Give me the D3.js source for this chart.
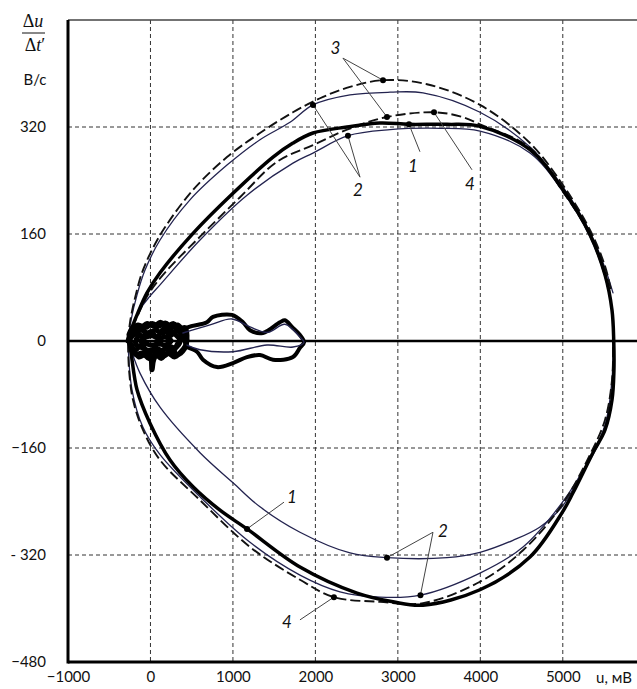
<!DOCTYPE html>
<html>
<head>
<meta charset="utf-8">
<script src="https://cdn.jsdelivr.net/npm/d3@7"></script>
<style>
  html, body { margin: 0; padding: 0; background: #fff; }
  svg { display: block; }
  .tick-label { font-family: Lato, "Open Sans", sans-serif; font-size: 15px; fill: #111; }
  .note { font-family: Lato, "Open Sans", sans-serif; font-style: italic; font-size: 17px; fill: #111; }
</style>
</head>
<body>
<svg id="chart" width="637" height="689"></svg>
<script>
// Axis ticks
const xTickValues = [-1000, 0, 1000, 2000, 3000, 4000, 5000];
const xTickLabels = ["\u22121000", "0", "1000", "2000", "3000", "4000", "5000"];
const yTickValues = [-480, -320, -160, 0, 160, 320];
const yTickLabels = ["\u2212480", "- 320", "\u2212160", "0", "160", "320"];
const xGridValues = [0, 1000, 2000, 3000, 4000, 5000];
const yGridValues = [-320, -160, 160, 320];

// Curve 1 (thick): full cycle, u [mV], du/dt [V/s]
const curve1 = [
  [-272, 0], [-236, 16], [-163, 39], [-42, 72], [116, 102], [516, 161], [1001, 221],
  [1486, 275], [1728, 296], [1971, 311], [2383, 320], [2783, 326], [3135, 324],
  [3596, 324], [3996, 321], [4602, 286], [5003, 226], [5330, 159], [5512, 99],
  [5597, 46], [5618, 0], [5620, -45], [5597, -88], [5512, -133], [5366, -167],
  [5124, -227], [4990, -257], [4602, -323], [3996, -372], [3305, -395], [2941, -390],
  [2505, -377], [1813, -338], [1171, -281], [843, -253], [516, -218], [237, -178],
  [-6, -123], [-163, -73], [-248, -9], [-272, 0]
];

// Curve 1 decaying tail: elongated loop and tangle near zero
const curve1Loop = [
  [443, -9], [394, 16], [685, 28], [758, 36], [988, 39], [1122, 28], [1207, 16],
  [1364, 12], [1570, 28], [1631, 31], [1716, 21], [1813, 9], [1862, -2], [1813, -10],
  [1728, -24], [1486, -28], [1328, -21], [1170, -24], [1000, -33], [806, -39],
  [637, -28], [564, -16], [443, -9]
];
const curve1LoopInner = [
  [394, 12], [722, 24], [988, 33], [1207, 21], [1425, 13], [1631, 25], [1813, 6],
  [1862, -2], [1728, -9], [1413, -6], [1001, -16], [601, -13], [443, -6]
];
const curve1Tangle = [
  [-272, 0], [-220, 18], [-150, 24], [-60, 20], [20, 26], [100, 22], [180, 27],
  [260, 20], [330, 24], [400, 14], [440, 2], [410, -12], [330, -20], [250, -14],
  [170, -22], [90, -18], [40, -28], [18, -43], [0, -24], [-60, -20], [-140, -24],
  [-210, -12], [-250, 0], [-190, 14], [-110, 16], [-30, 12], [60, 16], [140, 12],
  [220, 16], [300, 10], [360, 0], [300, -10], [220, -8], [140, -14], [60, -10],
  [-20, -14], [-100, -10], [-180, -4], [-140, 8], [-60, 6], [20, 8], [100, 4],
  [180, 6], [250, 0], [180, -6], [100, -4], [20, -6], [-60, -4], [-120, 0]
];
const curve1TangleOuter = [
  [-260, 10], [-200, 22], [-120, 20], [-40, 26], [40, 22], [120, 28], [200, 22],
  [280, 26], [350, 18], [420, 20], [443, 8], [430, -6], [370, -16], [290, -24],
  [210, -18], [130, -26], [60, -20], [-20, -26], [-100, -18], [-180, -20], [-240, -8]
];
const curve1TangleCore = [
  [-230, 6], [-160, 12], [-80, 4], [0, 14], [80, 6], [160, 18], [240, 8], [320, 16],
  [380, 6], [330, -4], [260, -18], [190, -10], [110, -22], [50, -14], [-30, -18],
  [-110, -6], [-190, -14], [-240, -4]
];

// Curve 2 (thin): outer upper branch
const curve2Outer = [
  [-272, 0], [-236, 31], [-163, 69], [-66, 106], [116, 151], [479, 211], [928, 263],
  [1328, 301], [1692, 327], [1971, 353], [2420, 368], [2905, 372], [3305, 371],
  [3996, 342], [4602, 290], [5003, 230], [5330, 163], [5512, 109], [5609, 72]
];
// Curve 2 (thin): inner upper branch, right side, outer lower branch
const curve2Inner = [
  [-272, 0], [-236, 16], [-151, 43], [-6, 67], [116, 84], [601, 151], [1171, 218],
  [1728, 266], [1971, 281], [2395, 307], [2905, 316], [3511, 318], [3996, 314],
  [4602, 281], [5003, 223], [5330, 156], [5512, 96], [5597, 46], [5609, 0],
  [5597, -58], [5512, -126], [5330, -175], [4990, -242], [4518, -308], [3996, -347],
  [3274, -380], [2783, -383], [2298, -375], [1813, -350], [1207, -301], [601, -233],
  [116, -170], [-91, -129], [-224, -73], [-272, 0]
];
// Curve 2 (thin): inner lower branch
const curve2Lower = [
  [5512, -133], [5366, -170], [5184, -208], [4990, -248], [4724, -278], [4396, -298],
  [3996, -316], [3596, -324], [2868, -324], [2420, -317], [1813, -286], [1328, -248],
  [1001, -212], [601, -167], [116, -99], [-127, -48], [-236, -13], [-272, 0]
];

// Curve 3 (dashed): outer upper branch
const curve3 = [
  [-272, 0], [-248, 28], [-188, 64], [-103, 102], [18, 136], [176, 170], [516, 226],
  [928, 275], [1328, 311], [1728, 342], [2056, 363], [2420, 380], [2820, 390],
  [3353, 384], [3996, 353], [4602, 296], [5003, 233], [5330, 166], [5512, 112],
  [5585, 76]
];

// Curve 4 (dashed): inner upper branch, right side, outer lower branch
const curve4 = [
  [-272, 0], [-236, 16], [-163, 36], [-30, 69], [152, 99], [601, 156], [1086, 215],
  [1534, 268], [1971, 293], [2383, 316], [2868, 335], [3438, 342], [3754, 336],
  [3996, 324], [4602, 289], [5003, 223], [5330, 159], [5512, 99], [5597, 46],
  [5609, 0], [5597, -58], [5512, -118], [5330, -170], [4990, -245], [4518, -313],
  [3996, -360], [3305, -392], [2783, -390], [2225, -383], [1813, -357], [1207, -308],
  [601, -238], [116, -178], [-91, -133], [-212, -88], [-260, -43], [-272, 0]
];

// Curve number callouts: label spot, leader origin, marked points
const notes = [
  { text: "3", at: [2243, 439], from: [2334, 423], marks: [[2820, 390], [2868, 335]] },
  { text: "2", at: [2516, 226], from: [2541, 245], marks: [[1971, 353], [2395, 307]] },
  { text: "1", at: [3184, 263], from: [3268, 283], marks: [[3135, 324]] },
  { text: "4", at: [3875, 236], from: [3899, 256], marks: [[3438, 342]] },
  { text: "1", at: [1716, -233], from: [1619, -241], marks: [[1171, -281]] },
  { text: "2", at: [3548, -283], from: [3426, -286], marks: [[2868, -324], [3274, -380]] },
  { text: "4", at: [1656, -420], from: [1813, -417], marks: [[2225, -383]] }
];

const svg = d3.select("#chart");
const x = d3.scaleLinear().domain([-1000, 5900]).range([68, 637]);
const y = d3.scaleLinear().domain([-480, 480]).range([662, 20]);
const [x0, x1] = x.range();
const [yBottom, yTop] = y.range();

// Dashed grid
const grid = svg.append("g").attr("stroke", "#333").attr("stroke-width", 1)
  .attr("stroke-dasharray", "4,3");
grid.selectAll("line.v").data(xGridValues).join("line").attr("class", "v")
  .attr("x1", d => x(d)).attr("x2", d => x(d)).attr("y1", yTop).attr("y2", yBottom);
grid.selectAll("line.h").data(yGridValues).join("line").attr("class", "h")
  .attr("x1", x0).attr("x2", x1).attr("y1", d => y(d)).attr("y2", d => y(d));

// Frame: top edge, zero line
svg.append("line").attr("x1", x0).attr("x2", x1).attr("y1", yTop).attr("y2", yTop)
  .attr("stroke", "#444").attr("stroke-width", 1.5);
svg.append("line").attr("x1", x0).attr("x2", x1).attr("y1", y(0)).attr("y2", y(0))
  .attr("stroke", "#000").attr("stroke-width", 2.6);

const line = d3.line().x(d => x(d[0])).y(d => y(d[1])).curve(d3.curveCatmullRom.alpha(0.5));

const plot = svg.append("g").attr("fill", "none").attr("stroke-linejoin", "round")
  .attr("stroke-linecap", "round");

// Thin navy traces (curve 2)
[curve2Outer, curve2Inner, curve2Lower].forEach(c =>
  plot.append("path").attr("d", line(c)).attr("stroke", "#23234f").attr("stroke-width", 1.3));

// Dashed traces (curves 3 and 4)
[curve3, curve4].forEach(c =>
  plot.append("path").attr("d", line(c)).attr("stroke", "#111").attr("stroke-width", 1.9)
    .attr("stroke-dasharray", "10,4").attr("stroke-linecap", "butt"));

// Thick trace (curve 1) with its decaying tail
plot.append("path").attr("d", line(curve1)).attr("stroke", "#000").attr("stroke-width", 3.5);
[curve1TangleOuter, curve1Tangle, curve1TangleCore].forEach(c =>
  plot.append("path").attr("d", line(c)).attr("stroke", "#000").attr("stroke-width", 5));
plot.append("path").attr("d", line(curve1Loop)).attr("stroke", "#000").attr("stroke-width", 4);
plot.append("path").attr("d", line(curve1LoopInner)).attr("stroke", "#23234f").attr("stroke-width", 1.4);

// Axes (drawn over the traces)
svg.append("line").attr("x1", x0).attr("x2", x0).attr("y1", yTop).attr("y2", yBottom + 1.5)
  .attr("stroke", "#000").attr("stroke-width", 3);
svg.append("line").attr("x1", x0).attr("x2", x1).attr("y1", yBottom).attr("y2", yBottom)
  .attr("stroke", "#000").attr("stroke-width", 3);

const yAxis = d3.axisLeft(y).tickValues(yTickValues)
  .tickFormat((d, i) => yTickLabels[i]).tickSize(0).tickPadding(22);
const gy = svg.append("g").attr("transform", `translate(${x0},0)`).call(yAxis);
gy.select(".domain").remove();
gy.selectAll("text").attr("class", "tick-label").attr("font-family", null).attr("font-size", null);

const xAxis = d3.axisBottom(x).tickValues(xTickValues)
  .tickFormat((d, i) => xTickLabels[i]).tickSize(0).tickPadding(9);
const gx = svg.append("g").attr("transform", `translate(0,${yBottom})`).call(xAxis);
gx.select(".domain").remove();
gx.selectAll("text").attr("class", "tick-label").attr("font-family", null).attr("font-size", null);

// Axis titles
svg.append("text").attr("class", "tick-label").attr("x", 614).attr("y", 683)
  .attr("text-anchor", "middle").text("u, мВ");

const ylab = svg.append("g").attr("font-family", "'Liberation Serif', 'DejaVu Serif', serif")
  .attr("font-size", 18).attr("fill", "#111");
ylab.append("text").attr("x", 33).attr("y", 27).attr("text-anchor", "middle")
  .html('Δ<tspan font-style="italic">u</tspan>');
ylab.append("line").attr("x1", 22).attr("x2", 45).attr("y1", 33).attr("y2", 33)
  .attr("stroke", "#111").attr("stroke-width", 1);
ylab.append("text").attr("x", 35).attr("y", 51).attr("text-anchor", "middle")
  .html('Δ<tspan font-style="italic">t</tspan>′');
svg.append("text").attr("class", "tick-label").attr("x", 35).attr("y", 85)
  .attr("text-anchor", "middle").text("В/с");

// Callouts
const ann = svg.append("g");
notes.forEach(n => {
  n.marks.forEach(m => ann.append("line")
    .attr("x1", x(n.from[0])).attr("y1", y(n.from[1]))
    .attr("x2", x(m[0])).attr("y2", y(m[1]))
    .attr("stroke", "#444").attr("stroke-width", 1));
  n.marks.forEach(m => ann.append("circle")
    .attr("cx", x(m[0])).attr("cy", y(m[1])).attr("r", 3).attr("fill", "#000"));
  ann.append("text").attr("class", "note").attr("x", x(n.at[0])).attr("y", y(n.at[1]))
    .attr("text-anchor", "middle").attr("dominant-baseline", "central").text(n.text);
});
</script>
</body>
</html>
